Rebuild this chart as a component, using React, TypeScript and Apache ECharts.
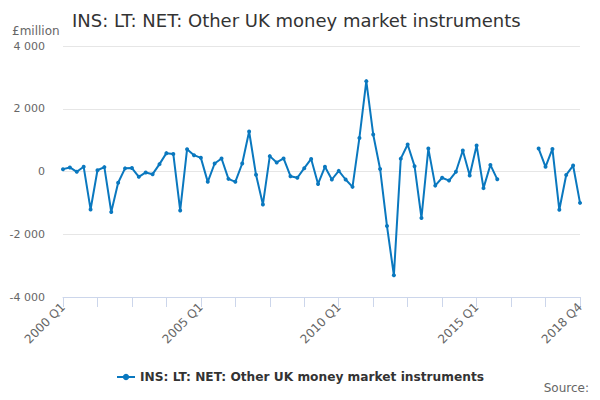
import React, { useEffect, useRef } from "react";
import * as echarts from "echarts";

const years = [2000, 2001, 2002, 2003, 2004, 2005, 2006, 2007, 2008, 2009, 2010, 2011, 2012, 2013, 2014, 2015, 2016, 2017, 2018];
const quarters = ["Q1", "Q2", "Q3", "Q4"];
const categories: string[] = [];
years.forEach((y) => quarters.forEach((q) => categories.push(`${y} ${q}`)));

const values: (number | null)[] = [
  75, 130, -10, 150, -1210, 40, 140, -1290, -360, 100,
  110, -170, -30, -85, 235, 585, 560, -1240, 710, 520,
  435, -330, 255, 415, -235, -330, 255, 1275, -105, -1050,
  490, 290, 415, -150, -200, 105, 400, -395, 150, -255,
  20, -255, -490, 1070, 2880, 1180, 80, -1740, -3310, 410,
  860, 170, -1480, 730, -450, -200, -290, -10, 670, -130,
  830, -530, 210, -250, null, null, null, null, null, 730,
  150, 720, -1220, -110, 190, -1000,
];

const yTicks = { min: -4000, max: 4000, interval: 2000 };
const seriesName = "INS: LT: NET: Other UK money market instruments";
const FONT = "DejaVu Sans";

export default function App() {
  const ref = useRef<HTMLDivElement>(null);
  useEffect(() => {
    if (!ref.current) return;
    const chart = echarts.init(ref.current, null, { renderer: "svg" });
    const last = categories.length - 1;
    chart.setOption({
      animation: false,
      textStyle: { fontFamily: FONT },
      title: {
        text: seriesName,
        left: 67,
        top: 6,
        textStyle: { fontSize: 18, fontWeight: "normal", color: "#333", fontFamily: FONT },
      },
      graphic: [
        {
          type: "text",
          left: 12,
          top: 25,
          style: { text: "£million", fontSize: 12, fill: "#666", fontFamily: FONT },
        },
        {
          type: "text",
          right: 11,
          top: 382,
          style: { text: "Source:", fontSize: 12, fill: "#666", fontFamily: FONT },
        },
      ],
      legend: {
        top: 366,
        left: "center",
        itemWidth: 18,
        itemHeight: 8,
        itemGap: 5,
        textStyle: { fontSize: 12.2, fontWeight: "bold", color: "#333", fontFamily: FONT },
        data: [seriesName],
      },
      grid: { left: 63, right: 20, top: 46, bottom: 103, containLabel: false },
      xAxis: {
        type: "category",
        data: categories,
        boundaryGap: false,
        axisLine: { onZero: false, lineStyle: { color: "#ccd6eb" } },
        axisTick: {
          length: 10,
          interval: (i: number) => i % 5 === 0,
          lineStyle: { color: "#ccd6eb" },
        },
        axisLabel: {
          interval: (i: number) => i % 20 === 0 || i === last,
          rotate: 45,
          color: "#666",
          fontSize: 12,
          fontFamily: FONT,
          margin: 8,
        },
        splitLine: { show: false },
      },
      yAxis: {
        type: "value",
        min: yTicks.min,
        max: yTicks.max,
        interval: yTicks.interval,
        axisLine: { show: false },
        axisTick: { show: false },
        axisLabel: {
          color: "#666",
          fontSize: 11,
          fontFamily: FONT,
          margin: 18,
          formatter: (v: number) => {
            const s = Math.abs(v).toString().replace(/\B(?=(\d{3})+(?!\d))/g, " ");
            return (v < 0 ? "-" : "") + s;
          },
        },
        splitLine: { lineStyle: { color: "#e6e6e6" } },
      },
      series: [
        {
          name: seriesName,
          type: "line",
          data: values,
          connectNulls: false,
          symbol: "circle",
          symbolSize: 4,
          showAllSymbol: true,
          itemStyle: { color: "#0a78bf" },
          lineStyle: { color: "#0a78bf", width: 2 },
        },
      ],
    });
    return () => chart.dispose();
  }, []);
  return (
    <div
      ref={ref}
      style={{ position: "absolute", left: 0, top: 0, width: 600, height: 400 }}
    />
  );
}
